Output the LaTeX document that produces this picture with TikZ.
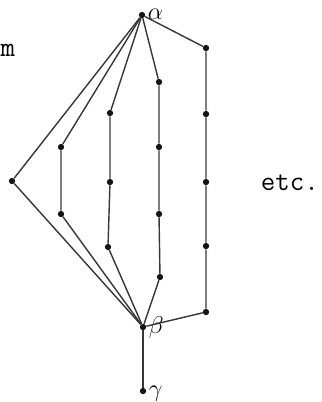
\documentclass[tikz,border=0pt]{standalone}
\usepackage{tikz}
\usetikzlibrary{positioning}

\definecolor{linecolor}{RGB}{55,55,55}
\definecolor{dotcolor}{RGB}{20,20,20}

\begin{document}
\begin{tikzpicture}[
    x=0.025cm, y=-0.025cm,
    % Estilos
    vertex/.style={
        circle, fill=dotcolor, inner sep=0pt, minimum size=4.5pt
    },
    edge/.style={draw=linecolor, line width=1pt},
    greek/.style={font=\LARGE, text=black},
    typed/.style={font=\fontsize{20}{24}\selectfont\ttfamily, text=black}
]
\useasboundingbox (0,0) rectangle (322,402);

% ============================================================================
% TOPO E BASE
% ============================================================================
\node[vertex] (alpha) at (142, 15) {};
\node[greek, anchor=west] (alphalbl) at (143, 14) {$\alpha$};
\node[vertex] (beta) at (143, 327) {};
\node[greek, anchor=west] (betalbl) at (144, 327) {$\beta$};
\node[vertex] (gamma) at (143, 391) {};
\node[greek, anchor=west] (gammalbl) at (144, 394) {$\gamma$};

% ============================================================================
% CADEIAS
% ============================================================================
\node[vertex] (left) at (12, 181) {};

\node[vertex] (c2a) at (61, 147) {};
\node[vertex] (c2b) at (61, 214) {};

\node[vertex] (c3a) at (110, 113) {};
\node[vertex] (c3b) at (110, 182) {};
\node[vertex] (c3c) at (108, 247) {};

\node[vertex] (c4a) at (159, 82) {};
\node[vertex] (c4b) at (159, 147) {};
\node[vertex] (c4c) at (159, 214) {};
\node[vertex] (c4d) at (160, 277) {};

\node[vertex] (c5a) at (206, 48) {};
\node[vertex] (c5b) at (206, 114) {};
\node[vertex] (c5c) at (206, 182) {};
\node[vertex] (c5d) at (206, 246) {};
\node[vertex] (c5e) at (206, 312) {};

\draw[edge] (alpha) -- (left) -- (beta);
\draw[edge] (alpha) -- (c2a) -- (c2b) -- (beta);
\draw[edge] (alpha) -- (c3a) -- (c3b) -- (c3c) -- (beta);
\draw[edge] (alpha) -- (c4a) -- (c4b) -- (c4c) -- (c4d) -- (beta);
\draw[edge] (alpha) -- (c5a) -- (c5b) -- (c5c) -- (c5d) -- (c5e) -- (beta);
\draw[edge] (beta) -- (gamma);

% Textos
\node[typed, anchor=east] (mtext) at (20, 50) {m};
\node[typed, anchor=west] (etc) at (256, 183) {etc.};

\end{tikzpicture}
\end{document}
